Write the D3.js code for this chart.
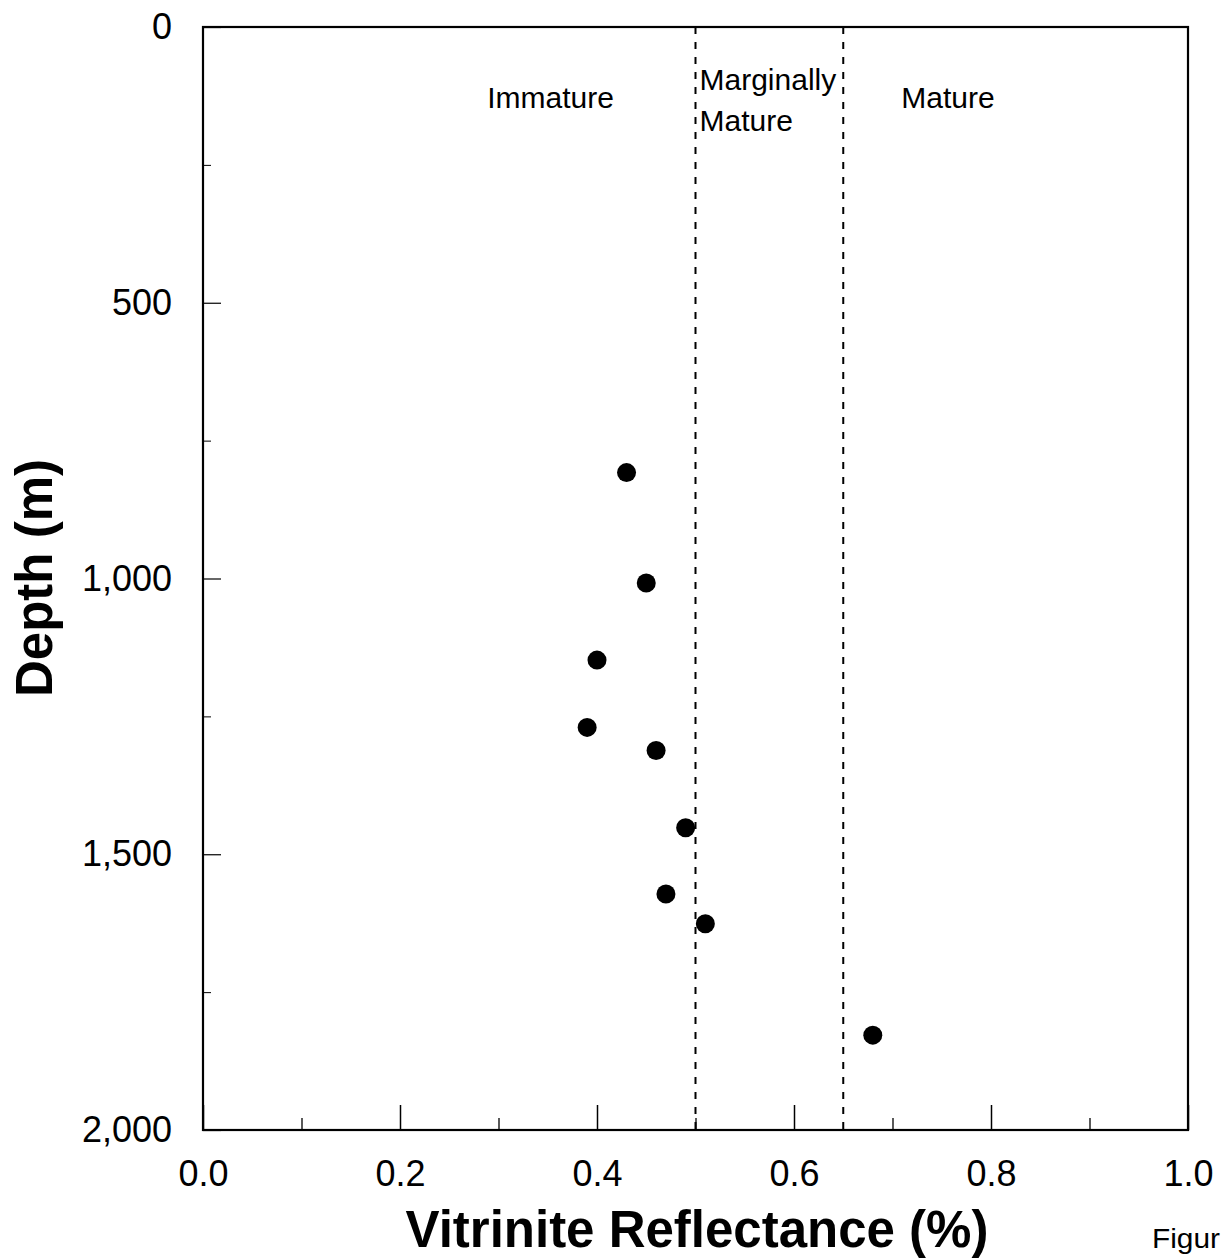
<!DOCTYPE html>
<html>
<head>
<meta charset="utf-8">
<script src="https://cdn.jsdelivr.net/npm/d3@7"></script>
<style>
  html, body { margin: 0; padding: 0; background: #fff; }
  svg { display: block; }
  text { font-family: "Liberation Sans", Arial, Helvetica, sans-serif; fill: #000; }
</style>
</head>
<body>
<script>
// ---- data ----
const reflectance = [0.43, 0.45, 0.40, 0.39, 0.46, 0.49, 0.47, 0.51, 0.68];
const depth       = [808, 1008, 1148, 1270, 1312, 1452, 1572, 1626, 1828];
const zoneBoundaries = [0.5, 0.65];
const xMajorTicks = [0, 0.2, 0.4, 0.6, 0.8, 1.0];
const xMinorTicks = [0.1, 0.3, 0.5, 0.7, 0.9];
const yMajorTicks = [0, 500, 1000, 1500, 2000];
const yMinorTicks = [250, 750, 1250, 1750];
const xTitle = "Vitrinite Reflectance (%)";
const yTitle = "Depth (m)";
const zoneNames = ["Immature", "Marginally", "Mature", "Mature"];

// ---- layout ----
const W = 1225, H = 1260;
const L = 203, R = 1188, T = 27, B = 1130;

const svg = d3.select("body").append("svg").attr("width", W).attr("height", H);

const x = d3.scaleLinear().domain([0, 1]).range([L, R]);
const y = d3.scaleLinear().domain([0, 2000]).range([T, B]);

// minor ticks
svg.append("g").attr("transform", `translate(0,${B})`)
  .call(d3.axisBottom(x).tickValues(xMinorTicks).tickSize(-12).tickFormat(""))
  .call(g => g.select(".domain").remove())
  .call(g => g.selectAll("line").attr("stroke-width", 1.3));
svg.append("g").attr("transform", `translate(${L},0)`)
  .call(d3.axisLeft(y).tickValues(yMinorTicks).tickSize(-8).tickFormat(""))
  .call(g => g.select(".domain").remove())
  .call(g => g.selectAll("line").attr("stroke-width", 1));

// major ticks + labels
svg.append("g").attr("transform", `translate(0,${B})`)
  .call(d3.axisBottom(x).tickValues(xMajorTicks).tickSize(-25).tickPadding(30).tickFormat(d3.format(".1f")))
  .call(g => g.select(".domain").remove())
  .call(g => g.selectAll("line").attr("stroke-width", 1.5))
  .call(g => g.selectAll("text").attr("font-size", 36).attr("font-family", "Liberation Sans, Arial, sans-serif"));
svg.append("g").attr("transform", `translate(${L},0)`)
  .call(d3.axisLeft(y).tickValues(yMajorTicks).tickSize(-18).tickPadding(31).tickFormat(d3.format(",")))
  .call(g => g.select(".domain").remove())
  .call(g => g.selectAll("line").attr("stroke-width", 1.2))
  .call(g => g.selectAll("text").attr("font-size", 36).attr("font-family", "Liberation Sans, Arial, sans-serif"));

// frame
svg.append("rect")
  .attr("x", L).attr("y", T).attr("width", R - L).attr("height", B - T)
  .attr("fill", "none").attr("stroke", "#000").attr("stroke-width", 2.2);

// zone boundaries
svg.selectAll("line.zone").data(zoneBoundaries).join("line")
  .attr("class", "zone")
  .attr("x1", d => x(d)).attr("x2", d => x(d))
  .attr("y1", T).attr("y2", B)
  .attr("stroke", "#000").attr("stroke-width", 2)
  .attr("stroke-dasharray", "7,8");

// zone labels
const zl = svg.append("g").attr("font-size", 30);
zl.append("text").attr("x", x(0.2885)).attr("y", 108).text(zoneNames[0]);
zl.append("text").attr("x", x(zoneBoundaries[0]) + 4).attr("y", 90).text(zoneNames[1]);
zl.append("text").attr("x", x(zoneBoundaries[0]) + 4).attr("y", 131).text(zoneNames[2]);
zl.append("text").attr("x", x(0.709)).attr("y", 108).text(zoneNames[3]);

// points
svg.selectAll("circle.pt").data(reflectance.map((r, i) => ({ r, d: depth[i] }))).join("circle")
  .attr("class", "pt")
  .attr("cx", d => x(d.r)).attr("cy", d => y(d.d))
  .attr("r", 9.5).attr("fill", "#000");

// axis titles
svg.append("text")
  .attr("x", 697).attr("y", 1247)
  .attr("text-anchor", "middle")
  .attr("font-size", 51).attr("font-weight", "bold")
  .text(xTitle);
svg.append("text")
  .attr("transform", "translate(52,578) rotate(-90)")
  .attr("text-anchor", "middle")
  .attr("font-size", 51).attr("font-weight", "bold")
  .text(yTitle);

// caption fragment
svg.append("text").attr("x", 1152).attr("y", 1248).attr("font-size", 27)
  .attr("textLength", 68).attr("lengthAdjust", "spacingAndGlyphs").text("Figur");
</script>
</body>
</html>
